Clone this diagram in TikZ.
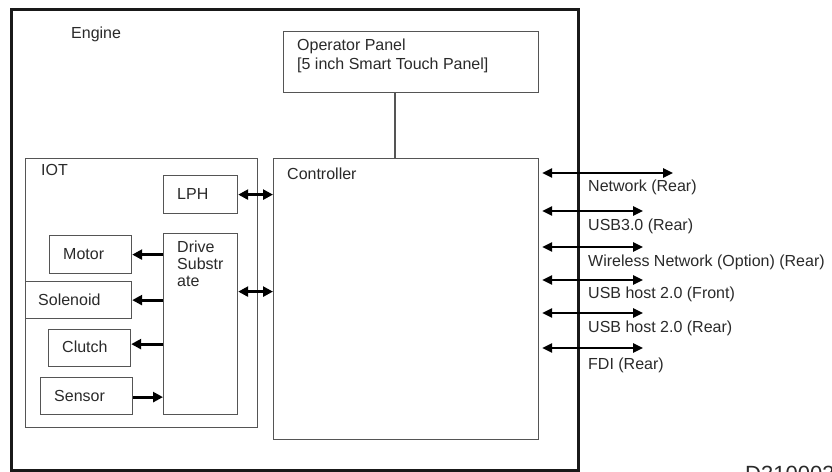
\documentclass[tikz,border=0pt]{standalone}
\usepackage{fontspec}
\setmainfont{Liberation Sans}
\usetikzlibrary{arrows.meta}
\definecolor{boxline}{HTML}{555555}
\definecolor{txt}{HTML}{2A2A2A}
\tikzset{
  box/.style={draw=boxline, line width=1.2pt, anchor=north west, inner sep=0pt},
  lbl/.style={anchor=west, inner sep=0pt, text=txt, font=\fontsize{16}{19}\selectfont},
  arr/.style={line width=3pt, black, -{Triangle[length=10pt,width=10pt]}},
  darr/.style={line width=3pt, black, {Triangle[length=10pt,width=10pt]}-{Triangle[length=10pt,width=10pt]}},
  rarr/.style={line width=2.4pt, black, {Triangle[length=10pt,width=9pt]}-{Triangle[length=10pt,width=9pt]}},
}
\begin{document}
\begin{tikzpicture}[x=1pt,y=-1pt]
\useasboundingbox (0,0) rectangle (832,471);
\fill[white] (0,0) rectangle (832,471);
% outer engine frame
\node[draw=black!90, line width=3pt, anchor=north west, inner sep=0pt, minimum width=567pt, minimum height=461pt] (engine) at (10,8) {};
\node[lbl] (enginelbl) at (71,34) {Engine};
% operator panel
\node[box, minimum width=255pt, minimum height=61pt] (panel) at (283,31) {};
\node[lbl, anchor=north west, align=left, font=\fontsize{16}{19}\selectfont] (paneltxt) at (297,39) {Operator Panel\\{[}5 inch Smart Touch Panel{]}};
% IOT
\node[box, minimum width=232pt, minimum height=269pt] (iot) at (25,158) {};
\node[lbl] (iotlbl) at (41,170) {IOT};
% controller
\node[box, minimum width=265pt, minimum height=281pt] (ctrl) at (273,158) {};
\node[lbl] (ctrllbl) at (287,174) {Controller};
\draw[boxline, line width=1.2pt] (ctrl.north -| 395,0) coordinate (pj) -- (pj |- panel.south);
% LPH
\node[box, minimum width=74pt, minimum height=38pt] (lph) at (163,175) {};
\node[lbl] (lphlbl) at (177,194) {LPH};
% drive substrate
\node[box, minimum width=74pt, minimum height=181pt] (drive) at (163,233) {};
\node[lbl, anchor=north west, align=left, font=\fontsize{16}{16.8}\selectfont] (drivetxt) at (177,241) {Drive\\Substr\\ate};
% IOT parts
\node[box, minimum width=82pt, minimum height=38pt] (motor) at (49,235) {};
\node[lbl] at (63,254) {Motor};
\node[box, minimum width=106pt, minimum height=37pt] (solenoid) at (25,281) {};
\node[lbl] at (38,300) {Solenoid};
\node[box, minimum width=82pt, minimum height=37pt] (clutch) at (48,329) {};
\node[lbl] at (62,347) {Clutch};
\node[box, minimum width=92pt, minimum height=37pt] (sensor) at (40,377) {};
\node[lbl] at (54,396) {Sensor};
% arrows inside
\draw[arr] (motor.east -| drive.west) -- (motor.east);
\draw[arr] (solenoid.east -| drive.west) -- (solenoid.east);
\draw[arr] ([yshift=4pt]clutch.east -| drive.west) -- ([yshift=4pt]clutch.east);
\draw[arr] ([yshift=-1pt]sensor.east) -- ([yshift=-1pt]sensor.east -| drive.west);
\draw[darr] (lph.east) -- (lph.east -| ctrl.west);
\draw[darr] ([yshift=32.5pt]drive.east) -- ([yshift=32.5pt]drive.east -| ctrl.west);
% external interfaces
\coordinate (e1) at (673,173);
\coordinate (e2) at (643,211);
\coordinate (e3) at (643,247);
\coordinate (e4) at (643,280);
\coordinate (e5) at (643,313);
\coordinate (e6) at (643,348);
\foreach \e in {e1,e2,e3,e4,e5,e6}{
  \draw[rarr, shorten <=3pt] (\e -| ctrl.east) -- (\e);
}
\node[lbl] (l1) at (588,187) {Network (Rear)};
\node[lbl] (l2) at (588,226) {USB3.0 (Rear)};
\node[lbl] (l3) at (588,262) {Wireless Network (Option) (Rear)};
\node[lbl] (l4) at (588,294) {USB host 2.0 (Front)};
\node[lbl] (l5) at (588,328) {USB host 2.0 (Rear)};
\node[lbl] (l6) at (588,365) {FDI (Rear)};
% figure number (cut by page edge, as in the reference)
\begin{scope}
\clip (0,0) rectangle (832,471);
\node[anchor=north west, inner sep=0pt, text=txt, font=\fontsize{22}{26}\selectfont] (fig) at (745,466) {D310003};
\end{scope}
\end{tikzpicture}
\end{document}
